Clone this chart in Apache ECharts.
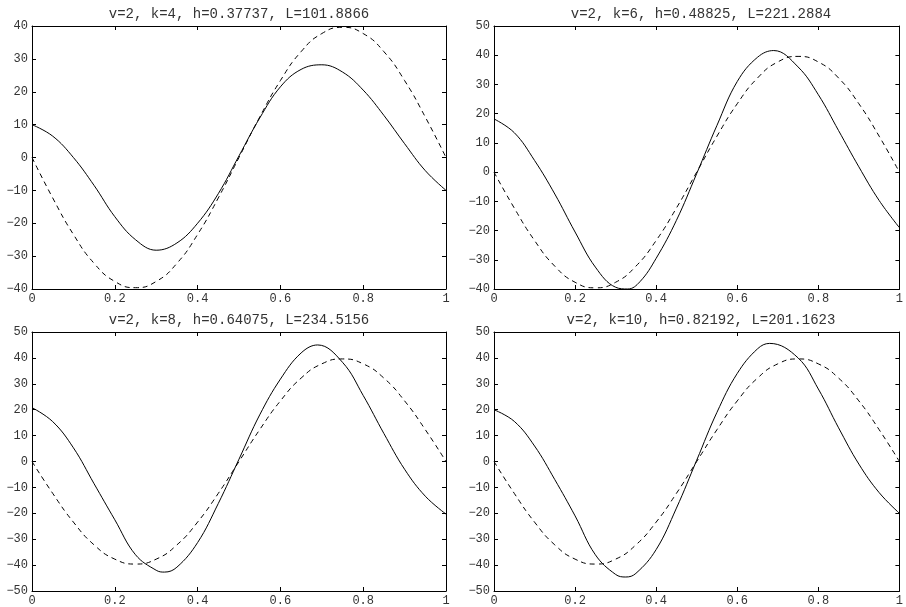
<!DOCTYPE html>
<html>
<head>
<meta charset="utf-8">
<script src="https://cdn.jsdelivr.net/npm/echarts@6/dist/echarts.min.js"></script>
<style>
  html, body { margin: 0; padding: 0; background: #fff; }
  #chart { width: 906px; height: 607px; }
</style>
</head>
<body>
<div id="chart"></div>
<script>
// sample positions along x for the dashed curve and k=4
const xs = [0, 0.05, 0.1, 0.15, 0.2, 0.25, 0.3, 0.35, 0.4, 0.45, 0.5,
            0.55, 0.6, 0.65, 0.7, 0.75, 0.8, 0.85, 0.9, 0.95, 1];

// dashed reference curve (same in every panel)
const target = [0, -12.3, -23.4, -32.2, -37.7, -39.6, -37.7, -32.2, -23.4, -12.3, 0,
                12.3, 23.4, 32.2, 37.7, 39.6, 37.7, 32.2, 23.4, 12.3, 0];

// solid curves, one per panel
const fitK4 = [10, 6.5, 0, -8.5, -18, -25, -28.2, -26, -20, -11, 0.5,
               12, 21.5, 26.8, 28.2, 26, 20.5, 12.8, 4.2, -4, -10];

const xsK6 = [0, 0.05, 0.1, 0.15, 0.2, 0.25, 0.3, 0.33, 0.36, 0.4, 0.45, 0.5,
              0.55, 0.6, 0.65, 0.69, 0.75, 0.8, 0.85, 0.9, 0.95, 1];
const fitK6 = [18.2, 13.5, 4, -7.5, -20.5, -32.5, -39.4, -40, -37.5, -29.5, -16.5, -0.5,
               16, 31, 39.3, 41.6, 36, 26.5, 14.2, 1.8, -9.7, -19];

const xsK8 = [0, 0.05, 0.1, 0.15, 0.2, 0.25, 0.3, 0.32, 0.35, 0.4, 0.45, 0.5,
              0.55, 0.6, 0.65, 0.69, 0.75, 0.8, 0.85, 0.9, 0.95, 1];
const fitK8 = [20.8, 15.4, 5.3, -8.6, -22.5, -36, -42, -42.7, -40.8, -31.3, -16.2, 0.9,
               18, 31.8, 41.9, 45, 38.3, 25.5, 10.8, -3, -13.4, -20.3];

const xsK10 = [0, 0.05, 0.1, 0.15, 0.2, 0.25, 0.3, 0.325, 0.35, 0.4, 0.45, 0.5,
               0.55, 0.6, 0.65, 0.68, 0.75, 0.8, 0.85, 0.9, 0.95, 1];
const fitK10 = [20, 15.5, 6, -7, -21, -36, -43.6, -44.6, -43.2, -34, -18, 0.5,
                19, 34, 43.5, 45.6, 40, 28, 13, -1, -12, -20];

const titles = [
  'v=2, k=4, h=0.37737, L=101.8866',
  'v=2, k=6, h=0.48825, L=221.2884',
  'v=2, k=8, h=0.64075, L=234.5156',
  'v=2, k=10, h=0.82192, L=201.1623'
];
const yMin = [-40, -40, -50, -50];
const yMax = [40, 50, 50, 50];
const fitX = [xs, xsK6, xsK8, xsK10];
const fits = [fitK4, fitK6, fitK8, fitK10];

const grids = [
  {left: 32, top: 26, width: 414, height: 263},
  {left: 494, top: 26, width: 414, height: 263},
  {left: 32, top: 332, width: 414, height: 264},
  {left: 494, top: 332, width: 414, height: 264}
];

const font = '"Liberation Mono", "DejaVu Sans Mono", monospace';
const lineCol = '#000';

function pairs(xv, ys){
  let list = [];
  for (let i = 0; i < xv.length; i++) list.push([xv[i], ys[i]]);
  return list;
}

let xAxis = [], yAxis = [], series = [], title = [];
grids.forEach((g, i) => {
  const base = {
    gridIndex: i,
    type: 'value',
    axisLine: {show: true, onZero: false, lineStyle: {color: lineCol, width: 1}},
    axisTick: {show: true, inside: true, length: 4, lineStyle: {color: lineCol}},
    splitLine: {show: false}
  };
  xAxis.push(Object.assign({}, base, {
    position: 'bottom', min: 0, max: 1, interval: 0.2,
    axisLabel: {margin: 4, fontFamily: font, fontSize: 12, color: '#333'}
  }));
  xAxis.push(Object.assign({}, base, {
    position: 'top', min: 0, max: 1, interval: 0.2,
    axisLabel: {show: false}
  }));
  yAxis.push(Object.assign({}, base, {
    position: 'left', min: yMin[i], max: yMax[i], interval: 10,
    axisLabel: {
      margin: 4, fontFamily: font, fontSize: 12, color: '#333',
      formatter: v => String(v).replace('-', '\u2212')
    }
  }));
  yAxis.push(Object.assign({}, base, {
    position: 'right', min: yMin[i], max: yMax[i], interval: 10,
    axisLabel: {show: false}
  }));
  series.push({
    type: 'line', xAxisIndex: 2 * i, yAxisIndex: 2 * i,
    data: pairs(xs, target), showSymbol: false, smooth: true,
    lineStyle: {color: lineCol, width: 1, type: [5, 4]}
  });
  series.push({
    type: 'line', xAxisIndex: 2 * i, yAxisIndex: 2 * i,
    data: pairs(fitX[i], fits[i]), showSymbol: false, smooth: 0.4,
    lineStyle: {color: lineCol, width: 1, type: 'solid'}
  });
  title.push({
    text: titles[i],
    left: g.left + g.width / 2,
    textAlign: 'center',
    top: g.top - 19,
    padding: 0,
    textStyle: {fontFamily: font, fontSize: 14, fontWeight: 'normal', color: '#333'}
  });
});

const chart = echarts.init(document.getElementById('chart'));
chart.setOption({
  animation: false,
  backgroundColor: '#fff',
  title,
  grid: grids,
  xAxis,
  yAxis,
  series
});
</script>
</body>
</html>
